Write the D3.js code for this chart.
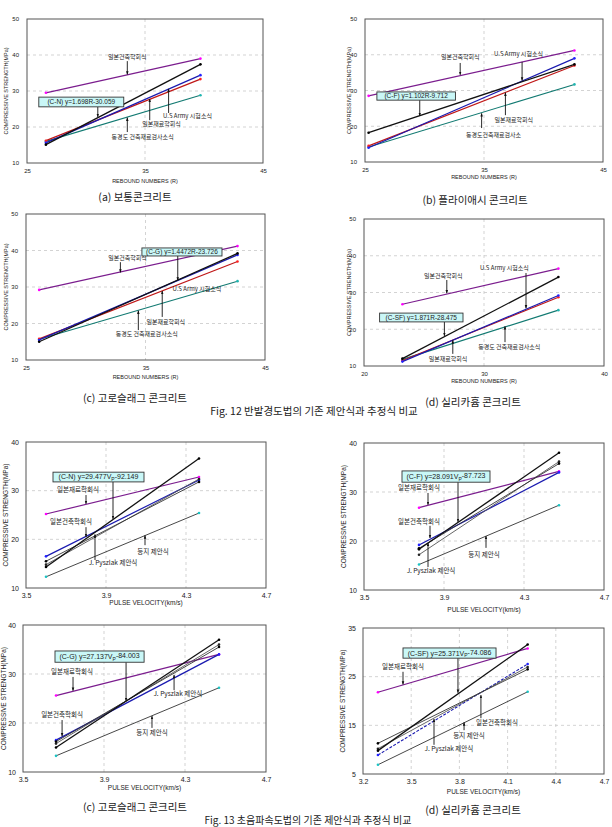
<!DOCTYPE html>
<html>
<head>
<meta charset="utf-8">
<script src="https://cdn.jsdelivr.net/npm/d3@7"></script>
<style>
  body { margin: 0; background: #fff; }
  text { font-family: "Noto Sans CJK KR", "Liberation Sans", Arial, sans-serif; fill: #222; }
</style>
</head>
<body>
<div id="chart"></div>
<script>
var W = 612, H = 827;

// ---- ticks ----
var xTicksR = [25, 35, 45];
var xTicksRsf = [20, 30, 40];
var yTicksR = [10, 20, 30, 40, 50];
var xTicksV = [3.5, 3.9, 4.3, 4.7];
var yTicksV = [10, 20, 30, 40];
var xTicksVsf = [3.2, 3.5, 3.8, 4.1, 4.4, 4.7];
var yTicksVsf = [5, 15, 25, 35];

// ---- Fig.12 rebound number (R) : start / end of each line ----
var aX = [26.6, 39.7];
var aAij = [29.5, 39.0], aEq = [15.1, 37.4], aArmy = [15.6, 34.4], aJsms = [16.2, 33.3], aTokyo = [16.0, 28.8];
var bX = [25.3, 42.6];
var bAij = [28.5, 41.2], bEq = [18.2, 37.3], bArmy = [14.0, 39.0], bJsms = [14.5, 37.0], bTokyo = [14.2, 31.7];
var cX = [26.1, 42.7];
var cAij = [29.2, 41.2], cEq = [15.0, 39.2], cArmy = [15.5, 38.8], cJsms = [15.8, 37.0], cTokyo = [15.7, 31.6];
var dX = [23.2, 36.2];
var dAij = [26.8, 36.5], dEq = [12.0, 34.2], dArmy = [11.2, 29.2], dJsms = [11.5, 28.7], dTokyo = [11.8, 25.2];

// ---- Fig.13 pulse velocity (km/s) ----
var eX = [3.6, 4.365];
var eJsms = [25.2, 32.8], eEq = [14.3, 36.6], eAij = [15.5, 31.8], ePysz = [14.8, 32.4], eOther = [16.5, 32.2], eDeung = [12.3, 25.4];
var fX = [3.775, 4.475];
var fJsms = [26.8, 34.2], fEq = [18.3, 38.0], fAij = [18.5, 35.8], fPysz = [17.2, 36.2], fOther = [19.2, 34.0], fDeung = [15.2, 27.3];
var gX = [3.663, 4.468];
var gJsms = [25.6, 34.0], gEq = [15.0, 37.0], gAij = [16.2, 35.5], gPysz = [15.8, 36.0], gOther = [16.5, 34.0], gDeung = [13.3, 27.2];
var hX = [3.293, 4.225];
var hJsms = [21.8, 30.8], hEq = [9.8, 31.6], hAij = [11.3, 26.5], hPysz = [10.2, 27.0], hOther = [8.9, 27.6], hDeung = [6.9, 21.9];

// ---- texts ----
var eqA = "(C-N)  y=1.698R-30.059", eqB = "(C-F)  y=1.102R-9.712",
    eqC = "(C-G)  y=1.4472R-23.726", eqD = "(C-SF)  y=1.871R-28.475";
var eqE = ["(C-N) y=29.477V", "-92.149"], eqF = ["(C-F) y=28.091V", "-87.723"],
    eqG = ["(C-G) y=27.137V", "-84.003"], eqH = ["(C-SF) y=25.371V", "-74.086"];

// ---- styles (kept apart from data) ----
var styles = {
  purple: {stroke: "#7b1d8e", dot: "#ff00ff", w: 1.2},
  black:  {stroke: "#111", dot: "#000", w: 1.3},
  thin:   {stroke: "#333", dot: "#000", w: 0.9},
  gray:   {stroke: "#555", dot: "#222", w: 0.9},
  blue:   {stroke: "#1a1ab0", dot: "#2222ff", w: 1.2},
  blueDash: {stroke: "#1a1ab0", dot: "#2222ff", w: 1.1, dash: "3,1.5"},
  red:    {stroke: "#c01818", dot: "#ff2020", w: 1.2},
  teal:   {stroke: "#127a72", dot: "#1fb5b0", w: 1.1},
  tealBlack: {stroke: "#333", dot: "#19c3c3", w: 0.9}
};

var svg = d3.select("#chart").append("svg").attr("width", W).attr("height", H);
var defs = svg.append("defs");
defs.append("marker").attr("id", "arr").attr("viewBox", "0 0 10 10")
  .attr("refX", 9).attr("refY", 5).attr("markerWidth", 4).attr("markerHeight", 4)
  .attr("orient", "auto")
  .append("path").attr("d", "M0,1.5 L10,5 L0,8.5 Z").attr("fill", "#111");

function drawPanel(p) {
  var g = svg.append("g");
  var x = d3.scaleLinear().domain(p.xDomain).range([p.left, p.right]);
  var y = d3.scaleLinear().domain(p.yDomain).range([p.bottom, p.top]);

  // grid
  g.selectAll(".gx").data(p.xTicks.slice(1, -1)).enter().append("line")
    .attr("x1", d => x(d)).attr("x2", d => x(d)).attr("y1", p.top).attr("y2", p.bottom)
    .attr("stroke", "#c8c8c8").attr("stroke-width", 0.8).attr("stroke-dasharray", "3,3");
  g.selectAll(".gy").data(p.yTicks.slice(1, -1)).enter().append("line")
    .attr("y1", d => y(d)).attr("y2", d => y(d)).attr("x1", p.left).attr("x2", p.right)
    .attr("stroke", "#c8c8c8").attr("stroke-width", 0.8).attr("stroke-dasharray", "3,3");

  g.append("rect").attr("x", p.left).attr("y", p.top)
    .attr("width", p.right - p.left).attr("height", p.bottom - p.top)
    .attr("fill", "none").attr("stroke", "#555").attr("stroke-width", 1);

  // axes
  var ax = g.append("g").attr("transform", "translate(0," + p.bottom + ")")
    .call(d3.axisBottom(x).tickValues(p.xTicks).tickSize(0).tickPadding(p.tp).tickFormat(d3.format("")));
  var ay = g.append("g").attr("transform", "translate(" + p.left + ",0)")
    .call(d3.axisLeft(y).tickValues(p.yTicks).tickSize(0).tickPadding(p.tp + 2).tickFormat(d3.format("")));
  [ax, ay].forEach(a => {
    a.select(".domain").remove();
    a.selectAll("text").style("font-family", "Liberation Sans, Arial").style("font-size", p.fs + "px").attr("fill", "#222");
  });

  g.append("text").attr("x", (p.left + p.right) / 2).attr("y", p.xTitleY).attr("dy", "0.35em")
    .attr("text-anchor", "middle").style("font-family", "Liberation Sans, Arial")
    .style("font-size", (p.fs - 0.5) + "px").text(p.xTitle);
  g.append("text").attr("transform", "translate(" + p.yTitleX + "," + ((p.top + p.bottom) / 2) + ") rotate(-90)")
    .attr("dy", "0.35em").attr("text-anchor", "middle").style("font-family", "Liberation Sans, Arial")
    .style("font-size", (p.fs - 0.5) + "px").text("COMPRESSIVE STRENGTH(MPa)");

  // lines
  p.series.forEach(s => {
    var st = styles[s.style];
    var pts = p.xs.map((xv, i) => [xv, s.values[i]]);
    g.append("path").attr("d", d3.line().x(d => x(d[0])).y(d => y(d[1]))(pts))
      .attr("fill", "none").attr("stroke", st.stroke).attr("stroke-width", st.w)
      .attr("stroke-dasharray", st.dash || null);
    g.selectAll(null).data(pts).enter().append("circle")
      .attr("cx", d => x(d[0])).attr("cy", d => y(d[1])).attr("r", 1.3).attr("fill", st.dot);
  });

  // annotations
  p.notes.forEach(n => {
    if (n.from) {
      g.append("line").attr("x1", x(n.from[0])).attr("y1", y(n.from[1]))
        .attr("x2", x(n.to[0])).attr("y2", y(n.to[1]))
        .attr("stroke", "#111").attr("stroke-width", 0.9).attr("marker-end", "url(#arr)");
    }
    g.append("text").attr("x", x(n.at[0])).attr("y", y(n.at[1])).attr("dy", "0.35em")
      .attr("text-anchor", "middle").style("font-size", p.nfs + "px").text(n.label);
  });

  // equation box
  var b = p.box;
  g.append("line").attr("x1", x(b.arrow[0])).attr("y1", y(b.y[1]))
    .attr("x2", x(b.arrow[0])).attr("y2", y(b.arrow[1]))
    .attr("stroke", "#111").attr("stroke-width", 0.9).attr("marker-end", "url(#arr)");
  g.append("rect").attr("x", x(b.x[0])).attr("y", y(b.y[0]))
    .attr("width", x(b.x[1]) - x(b.x[0])).attr("height", y(b.y[1]) - y(b.y[0]))
    .attr("fill", "#c9f7f7").attr("stroke", "#333").attr("stroke-width", 0.9);
  var t = g.append("text").attr("x", (x(b.x[0]) + x(b.x[1])) / 2).attr("y", (y(b.y[0]) + y(b.y[1])) / 2)
    .attr("dy", "0.35em").attr("text-anchor", "middle")
    .style("font-family", "Liberation Sans, Arial").style("font-size", p.bfs + "px");
  if (typeof b.text === "string") {
    t.text(b.text);
  } else {
    t.append("tspan").text(b.text[0]);
    t.append("tspan").attr("dy", "0.3em").style("font-size", (p.bfs - 2) + "px").text("P");
    t.append("tspan").attr("dy", "-0.3em").text(b.text[1]);
  }
}

var R = "REBOUND NUMBERS (R)", V = "PULSE VELOCITY(km/s)";
var f12 = {fs: 6, nfs: 6, bfs: 6.5, tp: 6}, f13 = {fs: 7, nfs: 6.5, bfs: 7, tp: 5};

var panels = [
  Object.assign({}, f12, {left: 27, right: 263, top: 19, bottom: 163, xDomain: [25, 45], yDomain: [10, 50],
    xTicks: xTicksR, yTicks: yTicksR, xTitle: R, xTitleY: 181, yTitleX: 6, xs: aX,
    series: [{style: "teal", values: aTokyo}, {style: "red", values: aJsms}, {style: "blue", values: aArmy},
             {style: "purple", values: aAij}, {style: "black", values: aEq}],
    notes: [
      {label: "일본건축학회식", at: [33.5, 39.4], from: [33.5, 38.3], to: [33.5, 34.6]},
      {label: "U.S Army 시험소식", at: [38.6, 23.1], from: [37.0, 23.9], to: [37.0, 30.6]},
      {label: "일본재료학회식", at: [36.4, 20.8], from: [35.4, 21.9], to: [35.4, 27.8]},
      {label: "동경도 건축재료검사소식", at: [34.8, 17.2], from: [33.5, 18.6], to: [33.5, 22.6]}],
    box: {x: [26.0, 33.2], y: [28.3, 25.6], arrow: [31.0, 22.8], text: eqA}}),
  Object.assign({}, f12, {left: 365, right: 603, top: 19, bottom: 162, xDomain: [25, 45], yDomain: [10, 50],
    xTicks: xTicksR, yTicks: yTicksR, xTitle: R, xTitleY: 177, yTitleX: 349, xs: bX,
    series: [{style: "teal", values: bTokyo}, {style: "red", values: bJsms}, {style: "blue", values: bArmy},
             {style: "purple", values: bAij}, {style: "black", values: bEq}],
    notes: [
      {label: "일본건축학회식", at: [33.0, 39.4], from: [33.0, 37.7], to: [33.0, 34.4]},
      {label: "U.S Army 시험소식", at: [37.9, 40.2], from: [38.2, 38.0], to: [38.2, 32.8]},
      {label: "일본재료학회식", at: [37.5, 21.7], from: [36.8, 23.1], to: [36.8, 29.4]},
      {label: "동경도건축재료검사소", at: [35.8, 17.6], from: [34.8, 19.5], to: [34.8, 23.6]}],
    box: {x: [26.0, 32.6], y: [29.6, 27.3], arrow: [29.6, 22.9], text: eqB}}),
  Object.assign({}, f12, {left: 26, right: 265, top: 214, bottom: 360, xDomain: [25, 45], yDomain: [10, 50],
    xTicks: xTicksR, yTicks: yTicksR, xTitle: R, xTitleY: 377, yTitleX: 6, xs: cX,
    series: [{style: "teal", values: cTokyo}, {style: "red", values: cJsms}, {style: "blue", values: cArmy},
             {style: "purple", values: cAij}, {style: "black", values: cEq}],
    notes: [
      {label: "일본건축학회식", at: [33.5, 37.9], from: [32.9, 36.8], to: [32.9, 34.0]},
      {label: "U.S Army 시험소식", at: [39.3, 29.5]},
      {label: "일본재료학회식", at: [36.7, 20.4], from: [36.4, 21.8], to: [36.4, 28.9]},
      {label: "동경도 건축재료검사소식", at: [35.1, 17.1], from: [34.4, 18.2], to: [34.4, 23.5]}],
    box: {x: [34.7, 41.4], y: [40.7, 38.5], arrow: [37.7, 31.8], text: eqC}}),
  Object.assign({}, f12, {left: 364, right: 604, top: 219, bottom: 366, xDomain: [20, 40], yDomain: [10, 50],
    xTicks: xTicksRsf, yTicks: yTicksR, xTitle: R, xTitleY: 381, yTitleX: 349, xs: dX,
    series: [{style: "teal", values: dTokyo}, {style: "red", values: dJsms}, {style: "blue", values: dArmy},
             {style: "purple", values: dAij}, {style: "black", values: dEq}],
    notes: [
      {label: "일본건축학회식", at: [26.6, 34.5], from: [26.9, 33.4], to: [26.9, 29.8]},
      {label: "U.S Army 시험소식", at: [31.7, 36.7], from: [33.5, 35.3], to: [33.5, 25.7]},
      {label: "동경도 건축재료검사소식", at: [32.1, 15.2], from: [31.75, 16.5], to: [31.75, 20.8]},
      {label: "일본재료학회식", at: [27.0, 11.9], from: [27.4, 13.3], to: [27.4, 17.0]}],
    box: {x: [21.3, 28.25], y: [24.4, 22.0], arrow: [26.7, 18.2], text: eqD}}),
  Object.assign({}, f13, {left: 26, right: 266, top: 442, bottom: 588, xDomain: [3.5, 4.7], yDomain: [10, 40],
    xTicks: xTicksV, yTicks: yTicksV, xTitle: V, xTitleY: 603, yTitleX: 6, xs: eX,
    series: [{style: "tealBlack", values: eDeung}, {style: "purple", values: eJsms}, {style: "blue", values: eOther},
             {style: "gray", values: ePysz}, {style: "thin", values: eAij}, {style: "black", values: eEq}],
    notes: [
      {label: "일본재료학회식", at: [3.76, 30.1], from: [3.8, 29.1], to: [3.8, 27.3]},
      {label: "일본건축학회식", at: [3.725, 23.6], from: [3.8, 22.5], to: [3.8, 20.5]},
      {label: "J. Pyszlak 제안식", at: [3.935, 15.1], from: [3.845, 15.75], to: [3.845, 21.0]},
      {label: "등지 제안식", at: [4.135, 17.4], from: [4.095, 18.8], to: [4.095, 20.8]}],
    box: {x: [3.635, 4.09], y: [33.8, 31.8], arrow: [3.935, 24.2], text: eqE}}),
  Object.assign({}, f13, {left: 364, right: 604, top: 443, bottom: 590, xDomain: [3.5, 4.7], yDomain: [10, 40],
    xTicks: xTicksV, yTicks: yTicksV, xTitle: V, xTitleY: 610, yTitleX: 344, xs: fX,
    series: [{style: "tealBlack", values: fDeung}, {style: "purple", values: fJsms}, {style: "blue", values: fOther},
             {style: "gray", values: fPysz}, {style: "thin", values: fAij}, {style: "black", values: fEq}],
    notes: [
      {label: "일본재료학회식", at: [3.775, 30.8], from: [3.82, 29.8], to: [3.82, 27.4]},
      {label: "일본건축학회식", at: [3.775, 23.9], from: [3.83, 23.1], to: [3.83, 20.6]},
      {label: "J. Pyszlak 제안식", at: [3.835, 13.9], from: [3.82, 14.7], to: [3.82, 19.6]},
      {label: "등지 제안식", at: [4.1, 17.3], from: [4.11, 18.6], to: [4.11, 21.0]}],
    box: {x: [3.69, 4.13], y: [34.3, 32.0], arrow: [3.97, 23.9], text: eqF}}),
  Object.assign({}, f13, {left: 23, right: 266, top: 625, bottom: 772, xDomain: [3.5, 4.7], yDomain: [10, 40],
    xTicks: xTicksV, yTicks: yTicksV, xTitle: V, xTitleY: 788, yTitleX: 4, xs: gX,
    series: [{style: "tealBlack", values: gDeung}, {style: "purple", values: gJsms}, {style: "blue", values: gOther},
             {style: "gray", values: gPysz}, {style: "thin", values: gAij}, {style: "black", values: gEq}],
    notes: [
      {label: "일본재료학회식", at: [3.742, 30.4], from: [3.747, 29.4], to: [3.747, 26.6]},
      {label: "일본건축학회식", at: [3.693, 21.6], from: [3.693, 20.6], to: [3.693, 17.3]},
      {label: "J. Pyszlak 제안식", at: [4.265, 25.9], from: [4.246, 26.7], to: [4.246, 29.8]},
      {label: "등지 제안식", at: [4.137, 18.0], from: [4.137, 19.0], to: [4.137, 21.4]}],
    box: {x: [3.658, 4.098], y: [34.7, 32.4], arrow: [4.009, 24.5], text: eqG}}),
  Object.assign({}, f13, {left: 363, right: 604, top: 628, bottom: 774, xDomain: [3.2, 4.7], yDomain: [5, 35],
    xTicks: xTicksVsf, yTicks: yTicksVsf, xTitle: V, xTitleY: 792, yTitleX: 343, xs: hX,
    series: [{style: "tealBlack", values: hDeung}, {style: "purple", values: hJsms}, {style: "blueDash", values: hOther},
             {style: "gray", values: hPysz}, {style: "thin", values: hAij}, {style: "black", values: hEq}],
    notes: [
      {label: "일본재료학회식", at: [3.449, 27.0], from: [3.449, 26.0], to: [3.449, 23.4]},
      {label: "일본건축학회식", at: [4.034, 15.5], from: [3.934, 16.5], to: [3.934, 21.2]},
      {label: "J. Pyszlak 제안식", at: [3.735, 10.1], from: [3.642, 11.0], to: [3.642, 16.3]},
      {label: "등지 제안식", at: [3.86, 12.8], from: [3.829, 14.0], to: [3.829, 15.6]}],
    box: {x: [3.449, 4.028], y: [30.9, 28.8], arrow: [3.791, 21.7], text: eqH}})
];

panels.forEach(drawPanel);

// captions
var captions = [
  {t: "(a) 보통콘크리트", x: 135, y: 197, s: 10.5},
  {t: "(b) 플라이애시 콘크리트", x: 475, y: 200, s: 10.5},
  {t: "(c) 고로슬래그 콘크리트", x: 135, y: 398, s: 10.5},
  {t: "(d) 실리카흄 콘크리트", x: 473, y: 402, s: 10.5},
  {t: "Fig. 12 반발경도법의 기존 제안식과 추정식 비교", x: 314, y: 411, s: 10.5},
  {t: "(c) 고로슬래그 콘크리트", x: 135, y: 807, s: 10.5},
  {t: "(d) 실리카흄 콘크리트", x: 473, y: 810, s: 10.5},
  {t: "Fig. 13 초음파속도법의 기존 제안식과 추정식 비교", x: 308, y: 820, s: 10}
];
svg.selectAll(".cap").data(captions).enter().append("text")
  .attr("x", d => d.x).attr("y", d => d.y).attr("dy", "0.35em").attr("text-anchor", "middle")
  .style("font-size", d => d.s + "px").attr("fill", "#333").text(d => d.t);
</script>
</body>
</html>
